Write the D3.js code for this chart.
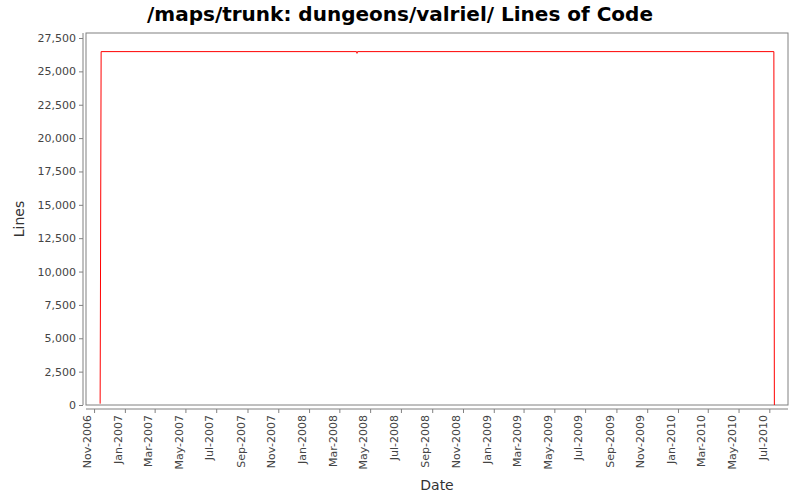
<!DOCTYPE html><html><head><meta charset="utf-8"><script src="https://cdn.jsdelivr.net/npm/d3@7"></script>
<style>body{margin:0;background:#fff}</style></head><body><svg id="c" width="800" height="500"></svg>
<script>
const dates=["2006-11-13","2006-11-15","2008-04-04","2008-04-05","2008-04-06","2010-07-10","2010-07-11"];
const lines=[100,26480,26480,26350,26480,26480,0];
const yTicks=[0,2500,5000,7500,10000,12500,15000,17500,20000,22500,25000,27500];
const xTickLabels=["Nov-2006","Jan-2007","Mar-2007","May-2007","Jul-2007","Sep-2007","Nov-2007","Jan-2008","Mar-2008","May-2008","Jul-2008","Sep-2008","Nov-2008","Jan-2009","Mar-2009","May-2009","Jul-2009","Sep-2009","Nov-2009","Jan-2010","Mar-2010","May-2010","Jul-2010"];
const svg=d3.select("#c"),F="DejaVu Sans, sans-serif";
const L=86,R=788,T=33,B=405;
const pf=d3.timeParse("%Y-%m-%d"),tf=d3.timeParse("%b-%Y");
const x=d3.scaleTime().domain([pf("2006-10-16"),pf("2010-08-07")]).range([L,R]);
const y=d3.scaleLinear().domain([0,27875]).range([B,T]);
svg.append("text").attr("x",400).attr("y",21).attr("text-anchor","middle").attr("font-family",F).attr("font-weight","bold").attr("font-size",20).text("/maps/trunk: dungeons/valriel/ Lines of Code");
svg.append("rect").attr("x",L).attr("y",T).attr("width",R-L).attr("height",B-T).attr("fill","#fff").attr("stroke","#808080");
const ya=svg.append("g").attr("transform",`translate(${L-3},0)`).call(d3.axisLeft(y).tickValues(yTicks).tickFormat(d3.format(",")).tickSize(4).tickSizeOuter(0));
const xa=svg.append("g").attr("transform",`translate(0,${B+4})`).call(d3.axisBottom(x).tickValues(xTickLabels.map(s=>tf(s))).tickFormat(d3.timeFormat("%b-%Y")).tickSize(4).tickSizeOuter(0));
[ya,xa].forEach(a=>{a.selectAll("path,line").attr("stroke","#808080");a.selectAll("text").attr("font-family",F).attr("font-size",11).attr("fill","#444");});
xa.selectAll("text").attr("transform","rotate(-90)").attr("text-anchor","end").attr("dx","-6").attr("dy","-0.3em").attr("x",0).attr("y",0);
ya.select(".domain").attr("d",`M0,${T}V${B}`);
xa.select(".domain").attr("d",`M${L},0H${R}`);
svg.append("text").attr("x",437).attr("y",490).attr("text-anchor","middle").attr("font-family",F).attr("font-size",14).attr("fill","#333").text("Date");
svg.append("text").attr("transform","translate(24,219) rotate(-90)").attr("text-anchor","middle").attr("font-family",F).attr("font-size",14).attr("fill","#333").text("Lines");
const data=dates.map((d,i)=>[pf(d),lines[i]]);
svg.append("path").datum(data).attr("fill","none").attr("stroke","#f00").attr("stroke-width",1).attr("d",d3.line().x(d=>x(d[0])).y(d=>y(d[1])));
</script></body></html>
